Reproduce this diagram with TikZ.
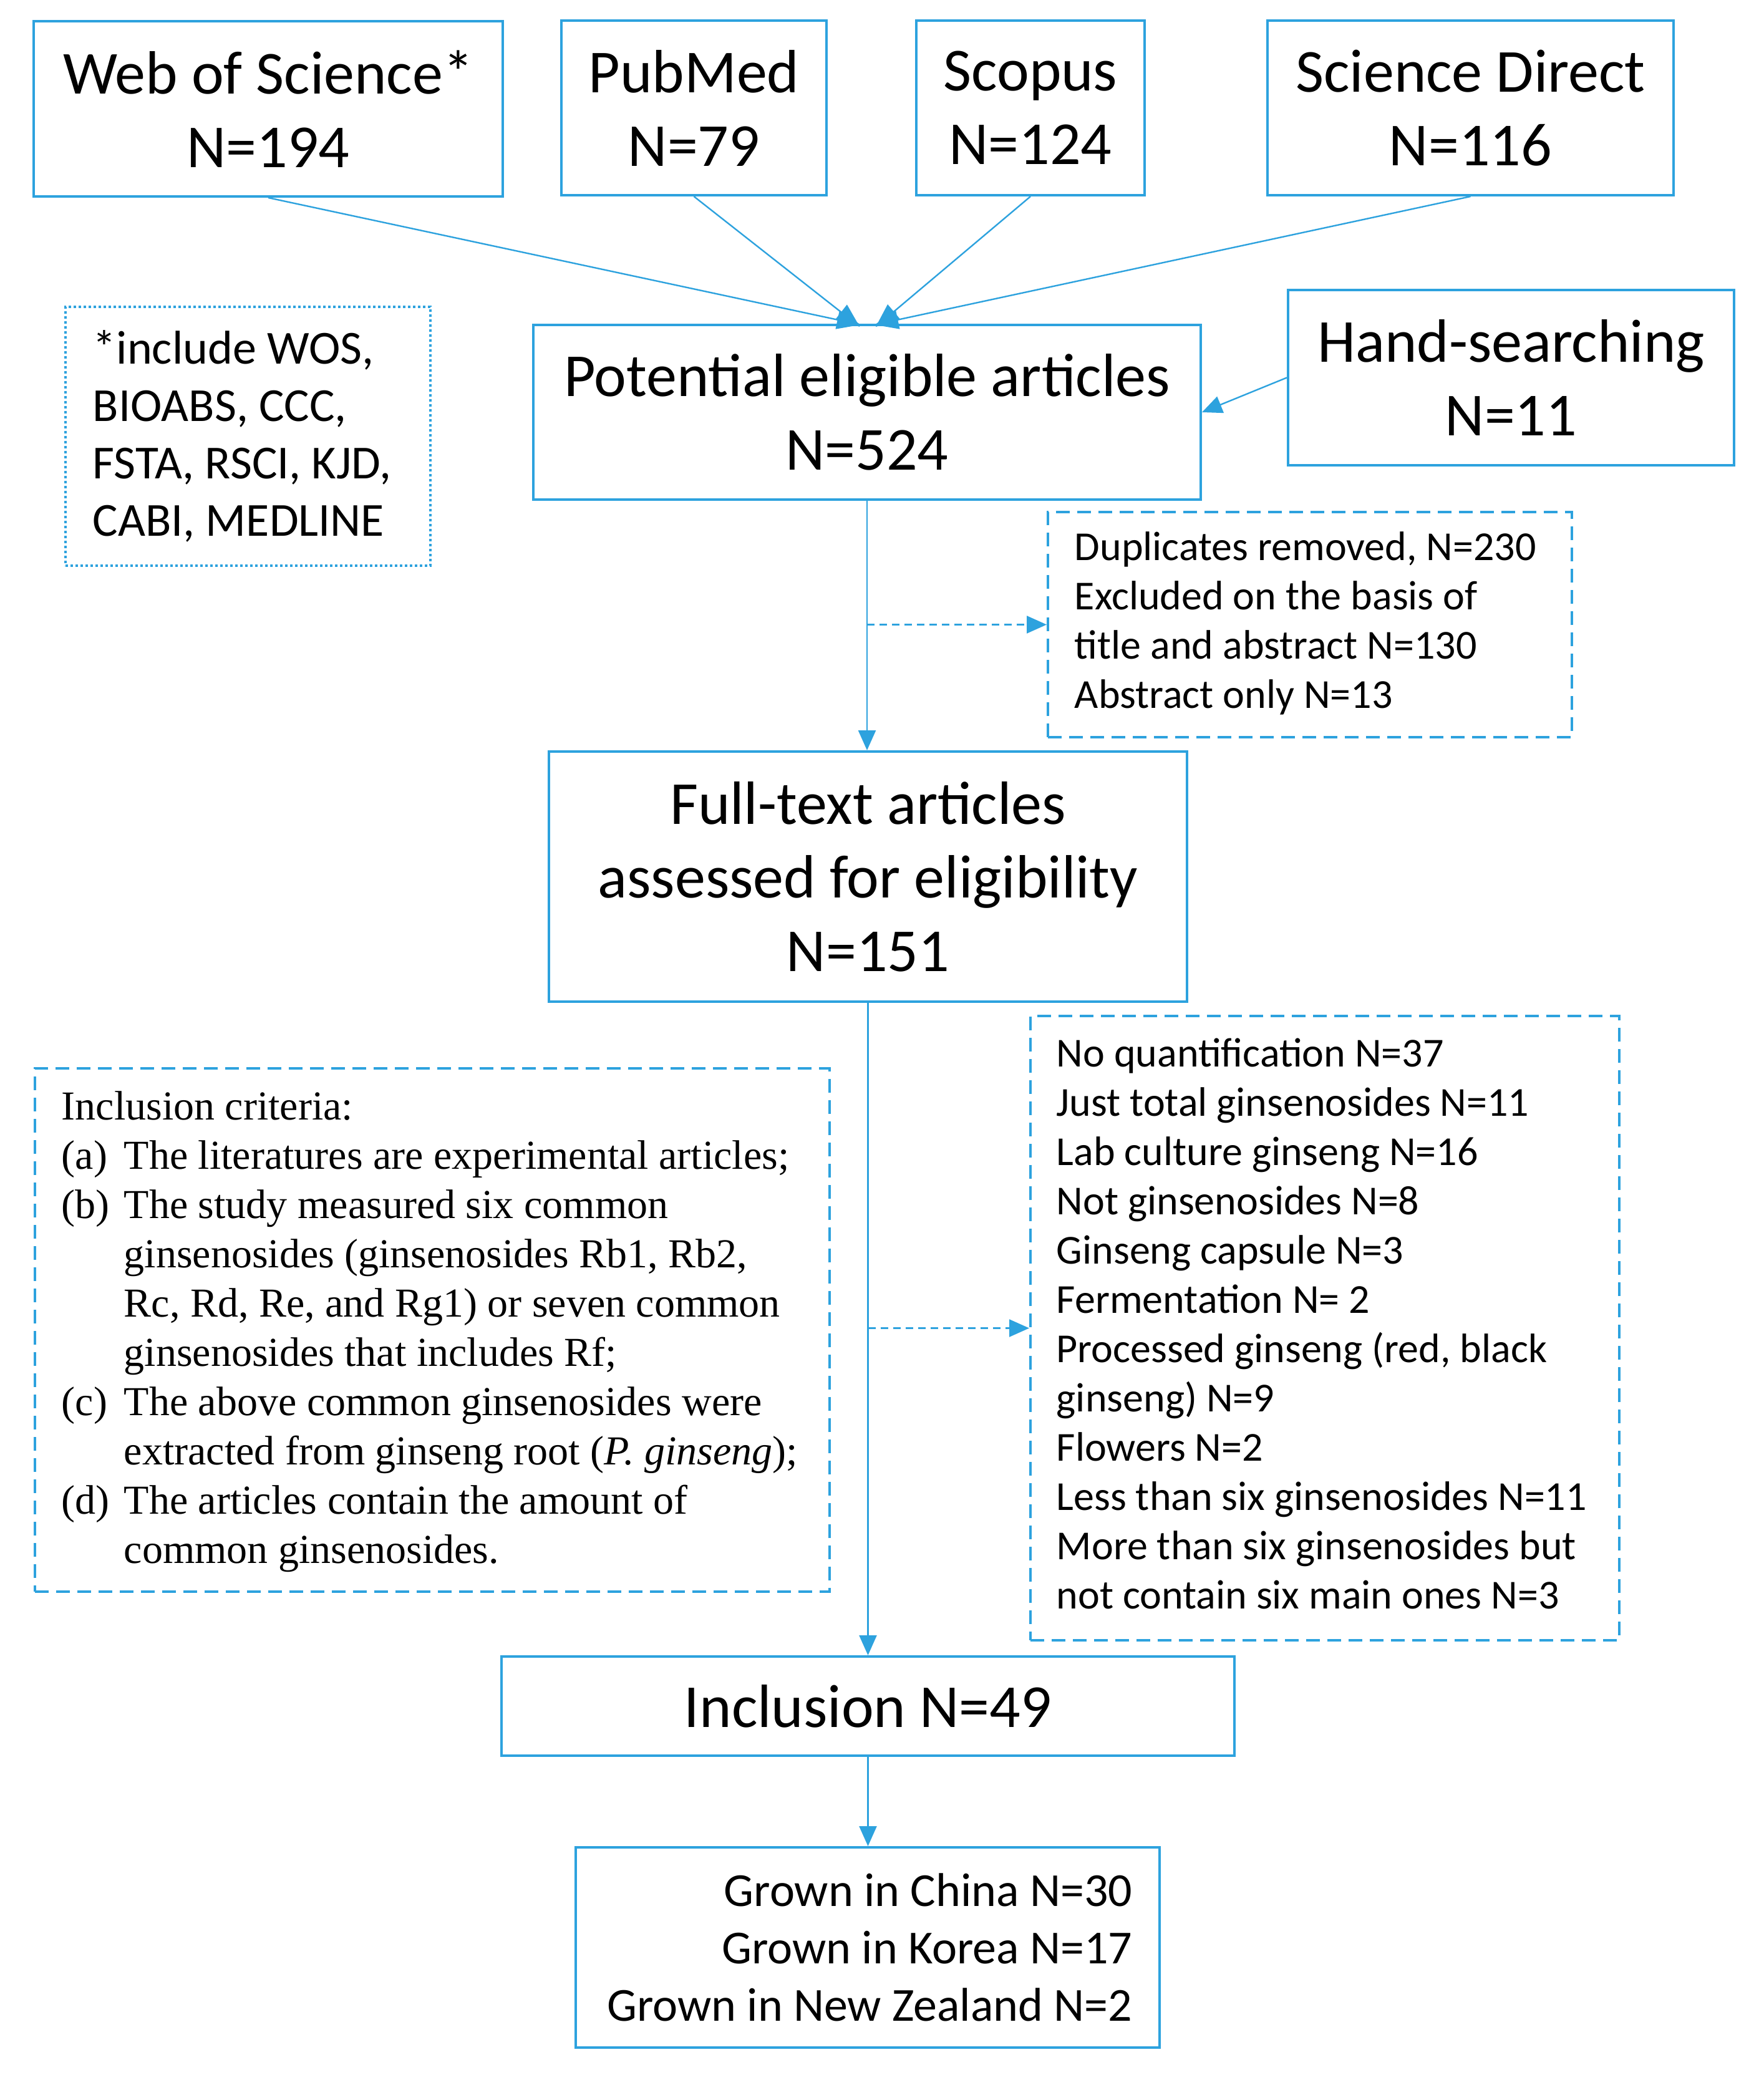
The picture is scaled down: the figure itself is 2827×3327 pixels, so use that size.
\documentclass[tikz,border=0pt]{standalone}
\usepackage{fontspec}
\setmainfont{Carlito}
\newfontfamily\tnr{Liberation Serif}
\usetikzlibrary{arrows.meta}
\definecolor{bl}{RGB}{45,162,222}
\begin{document}
\begin{tikzpicture}[x=0.25pt,y=-0.25pt,
  box/.style={draw=bl, line width=1pt, inner sep=0pt, align=center, font=\fontsize{24.5}{29.5}\selectfont},
  dbox/.style={draw=bl, line width=1pt, dash pattern=on 5.5pt off 3pt, inner sep=0pt},
  obox/.style={draw=bl, line width=0.8pt, dash pattern=on 1.1pt off 0.9pt, inner sep=0pt},
  conn/.style={draw=bl, line width=0.6pt, -{Triangle[length=8pt,width=7pt]}},
  topconn/.style={draw=bl, line width=0.6pt, -{Triangle[length=9.5pt,width=7.5pt]}, shorten >=-2pt},
  dconn/.style={conn, dash pattern=on 3pt off 2pt},
  midtext/.style={font=\fontsize{16.5}{19.75}\selectfont, align=left, inner sep=0pt},
  bigtext/.style={font=\fontsize{19}{23}\selectfont, inner sep=0pt},
  sertext/.style={font=\tnr\fontsize{16.5}{19.75}\selectfont, align=left, inner sep=0pt}
]
\fill[white] (0,0) rectangle (2827,3327);
\useasboundingbox (0,0) rectangle (2827,3327);

% top sources
\node[box, minimum width=188pt, minimum height=70.25pt] (wos) at (430,174.5) {Web of Science*\\N=194};
\node[box, minimum width=106.25pt, minimum height=70pt] (pub) at (1112.5,173) {PubMed\\N=79};
\node[box, minimum width=91.5pt, minimum height=70pt] (sco) at (1652,173) {Scopus\\N=124};
\node[box, minimum width=162.75pt, minimum height=70pt] (sd) at (2357.5,173) {Science Direct\\N=116};

% note
\node[obox, minimum width=146.25pt, minimum height=103.75pt] (note) at (397.5,699.5) {};
\node[bigtext, align=left, anchor=west] (notetext) at (148,699.5) {*include WOS,\\BIOABS, CCC,\\FSTA, RSCI, KJD,\\CABI, MEDLINE};

% potential and hand
\node[box, minimum width=267.5pt, minimum height=70pt] (pot) at (1390,661) {Potential eligible articles\\N=524};
\node[box, minimum width=178.75pt, minimum height=70.25pt] (hand) at (2422.5,605.5) {Hand-searching\\N=11};

% duplicates
\node[dbox, minimum width=210pt, minimum height=90.25pt] (dup) at (2100,1001.5) {};
\node[midtext, anchor=west] (duptext) at (1722,999) {Duplicates removed, N=230\\Excluded on the basis of\\title and abstract N=130\\Abstract only N=13};

% full text
\node[box, minimum width=255.75pt, minimum height=100.25pt] (full) at (1391.5,1405.5) {Full-text articles\\assessed for eligibility\\N=151};

% inclusion criteria
\node[dbox, minimum width=318.5pt, minimum height=209.75pt] (crit) at (693,2132.5) {};
\node[sertext, anchor=west] (crittext) at (98,2135) {Inclusion criteria:\\
\makebox[25pt][l]{(a)}The literatures are experimental articles;\\
\makebox[25pt][l]{(b)}The study measured six common\\
\hspace*{25pt}ginsenosides (ginsenosides Rb1, Rb2,\\
\hspace*{25pt}Rc, Rd, Re, and Rg1) or seven common\\
\hspace*{25pt}ginsenosides that includes Rf;\\
\makebox[25pt][l]{(c)}The above common ginsenosides were\\
\hspace*{25pt}extracted from ginseng root (\textit{P. ginseng});\\
\makebox[25pt][l]{(d)}The articles contain the amount of\\
\hspace*{25pt}common ginsenosides.};

% exclusion
\node[dbox, minimum width=236pt, minimum height=250.25pt] (excl) at (2124,2129.5) {};
\node[midtext, anchor=west] (excltext) at (1693,2122) {No quantification N=37\\Just total ginsenosides N=11\\Lab culture ginseng N=16\\Not ginsenosides N=8\\Ginseng capsule N=3\\Fermentation N= 2\\Processed ginseng (red, black\\ginseng) N=9\\Flowers N=2\\Less than six ginsenosides N=11\\More than six ginsenosides but\\not contain six main ones N=3};

% inclusion
\node[box, minimum width=293.75pt, minimum height=39.75pt] (incl) at (1391.5,2735.5) {Inclusion N=49};

% grown
\node[box, minimum width=234pt, minimum height=80.25pt] (grown) at (1391,3122.5) {};
\node[bigtext, align=right, anchor=east] (growntext) at (1816,3122.5) {Grown in China N=30\\Grown in Korea N=17\\Grown in New Zealand N=2};

% connectors
\draw[topconn] (wos.south) -- ([xshift=-4.5pt]pot.north);
\draw[topconn] (pub.south) -- ([xshift=-4.5pt]pot.north);
\draw[topconn] (sco.south) -- ([xshift=5pt]pot.north);
\draw[topconn] (sd.south) -- ([xshift=5pt]pot.north);
\draw[conn] (hand.west) -- (pot.east);
\draw[conn] (pot.south) -- (pot.south |- full.north);
\coordinate (b1) at (pot.south |- dup.west);
\draw[dconn] (b1) -- (dup.west);
\draw[conn] (full.south) -- (full.south |- incl.north);
\coordinate (b2) at (full.south |- excl.west);
\draw[dconn] (b2) -- (excl.west);
\draw[conn] (incl.south) -- (incl.south |- grown.north);
\end{tikzpicture}
\end{document}
